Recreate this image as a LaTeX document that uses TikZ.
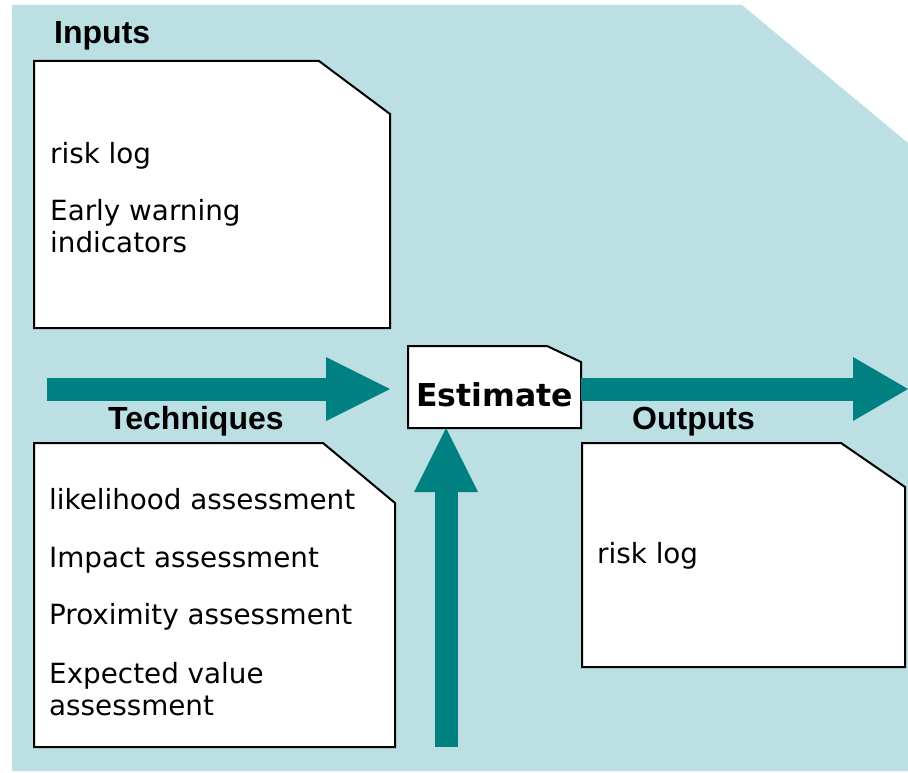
\documentclass[tikz,border=0pt]{standalone}
\usepackage{fontspec}
\usetikzlibrary{arrows.meta,calc}
\newfontfamily\bodyfont{DejaVu Sans}
\newfontfamily\headfont{Liberation Sans}
\definecolor{bgteal}{HTML}{BBDFE2}
\definecolor{arrteal}{HTML}{008080}
\tikzset{
  docbox/.style={draw=black, line width=2pt, fill=white, line join=miter},
  heading/.style={font=\headfont\bfseries\fontsize{32}{36}\selectfont, inner sep=0pt, anchor=base west},
  bodytext/.style={font=\bodyfont\fontsize{27.8}{32}\selectfont, inner sep=0pt, anchor=base west},
  bigarrow/.style={draw=arrteal, line width=23pt, line cap=butt,
    -{Triangle[length=64pt,width=64pt,line width=0pt,fill=arrteal]}},
  bigarrowb/.style={draw=arrteal, line width=23pt, line cap=butt,
    -{Triangle[length=55pt,width=64pt,line width=0pt,fill=arrteal]}}
}
\begin{document}
\begin{tikzpicture}[x=1pt,y=-1pt]
\useasboundingbox (0,0) rectangle (908,773);
% background panel
\fill[bgteal] (12,5) -- (742,5) -- (908,143) -- (908,771) -- (12,771) -- cycle;
% document boxes
\draw[docbox] (34,61) -- (319,61) -- (390,114) -- (390,328) -- (34,328) -- cycle;
\draw[docbox] (34,443) -- (323,443) -- (395,503) -- (395,747) -- (34,747) -- cycle;
\draw[docbox] (582,443) -- (841,443) -- (905,487) -- (905,667) -- (582,667) -- cycle;
\draw[docbox] (408,346) -- (547,346) -- (581,362) -- (581,428) -- (408,428) -- cycle;
\node[minimum width=173pt, minimum height=82pt, inner sep=0pt, outer sep=0pt] (est) at (494.5,387) {};
\node[font=\bodyfont\bfseries\fontsize{31.5}{36}\selectfont, inner sep=0pt, anchor=base] (estlabel) at (494.5,406) {Estimate};
% arrows
\coordinate (lstart) at (47,389);
\coordinate (rend) at (908,389);
\coordinate (ustart) at (446,747);
\draw[bigarrow, shorten >=18pt] (lstart) -- (lstart -| est.west);
\draw[bigarrowb] (est.east |- rend) -- (rend);
\draw[bigarrow] (ustart) -- (ustart |- est.south);
% headings
\node[heading] (hin) at (54,44) {Inputs};
\node[heading] (htech) at (108,429) {Techniques};
\node[heading] (hout) at (632,429) {Outputs};
% inputs text
\node[bodytext] (i1) at (50,164) {risk log};
\node[bodytext] (i2) at (50,220) {Early warning};
\node[bodytext] (i3) at (50,252) {indicators};
% techniques text
\node[bodytext] (t1) at (49,509) {likelihood assessment};
\node[bodytext] (t2) at (49,567) {Impact assessment};
\node[bodytext] (t3) at (49,624) {Proximity assessment};
\node[bodytext] (t4) at (49,683) {Expected value};
\node[bodytext] (t5) at (49,715) {assessment};
% outputs text
\node[bodytext] (o1) at (597,563) {risk log};
\end{tikzpicture}
\end{document}
